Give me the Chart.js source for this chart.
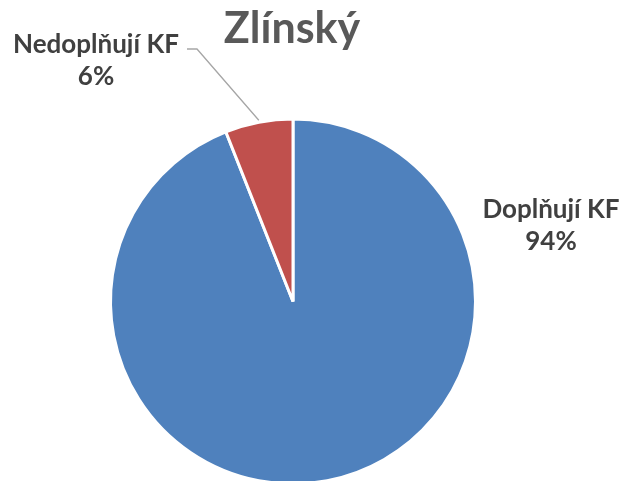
<!DOCTYPE html>
<html>
<head>
<meta charset="utf-8">
<script src="https://cdn.jsdelivr.net/npm/chart.js@4.4.1/dist/chart.umd.min.js"></script>
<style>
  html, body { margin: 0; padding: 0; background: #fff; overflow: hidden; }
  #wrap { width: 625px; height: 490px; }
</style>
</head>
<body>
<div id="wrap"><canvas id="canvas" width="625" height="490"></canvas></div>
<script>
var chartTitle = 'Zlínský';
var categories = ['Doplňují KF', 'Nedoplňují KF'];
var values = [94, 6];
var colors = ['#4f81bd', '#c0504d'];

// labels drawn next to the pie, like excel does it
var labelPlugin = {
  id: 'pieLabels',
  afterDraw: function(chart) {
    var ctx = chart.ctx;
    var area = chart.chartArea;
    var meta = chart.getDatasetMeta(0);
    var total = values.reduce(function(a, b) { return a + b; }, 0);

    ctx.save();
    // title
    ctx.fillStyle = '#595959';
    ctx.font = 'bold 43px Lato';
    ctx.textAlign = 'center';
    ctx.textBaseline = 'alphabetic';
    ctx.fillText(chartTitle, 292, 43);

    ctx.font = 'bold 26px Lato';
    ctx.fillStyle = '#404040';
    ctx.textBaseline = 'middle';

    meta.data.forEach(function(arc, i) {
      var pct = Math.round(values[i] / total * 100) + '%';
      var p = arc.getProps(['x', 'y', 'startAngle', 'endAngle', 'outerRadius'], true);
      var mid = (p.startAngle + p.endAngle) / 2;
      var tx, ty;
      if (i === 0) {
        tx = 551;
        ty = p.y - 92;
      } else {
        tx = 96;
        ty = 45;
        // leader line from label to slice edge
        var ex = p.x + Math.cos(mid) * p.outerRadius;
        var ey = p.y + Math.sin(mid) * p.outerRadius;
        ctx.strokeStyle = '#a6a6a6';
        ctx.lineWidth = 1.3;
        ctx.beginPath();
        ctx.moveTo(187, 49);
        ctx.lineTo(197, 49);
        ctx.lineTo(ex, ey - 2);
        ctx.stroke();
      }
      ctx.fillText(categories[i], tx, ty);
      ctx.fillText(pct, tx, ty + 32);
    });
    ctx.restore();
  }
};

new Chart(document.getElementById('canvas'), {
  type: 'pie',
  data: {
    labels: categories,
    datasets: [{
      data: values,
      backgroundColor: colors,
      borderColor: '#ffffff',
      borderWidth: 3
    }]
  },
  options: {
    responsive: false,
    animation: false,
    layout: { padding: { top: 117, bottom: 4, left: 109, right: 148 } },
    plugins: {
      legend: { display: false },
      tooltip: { enabled: false },
      title: { display: false }
    }
  },
  plugins: [labelPlugin]
});
</script>
</body>
</html>
